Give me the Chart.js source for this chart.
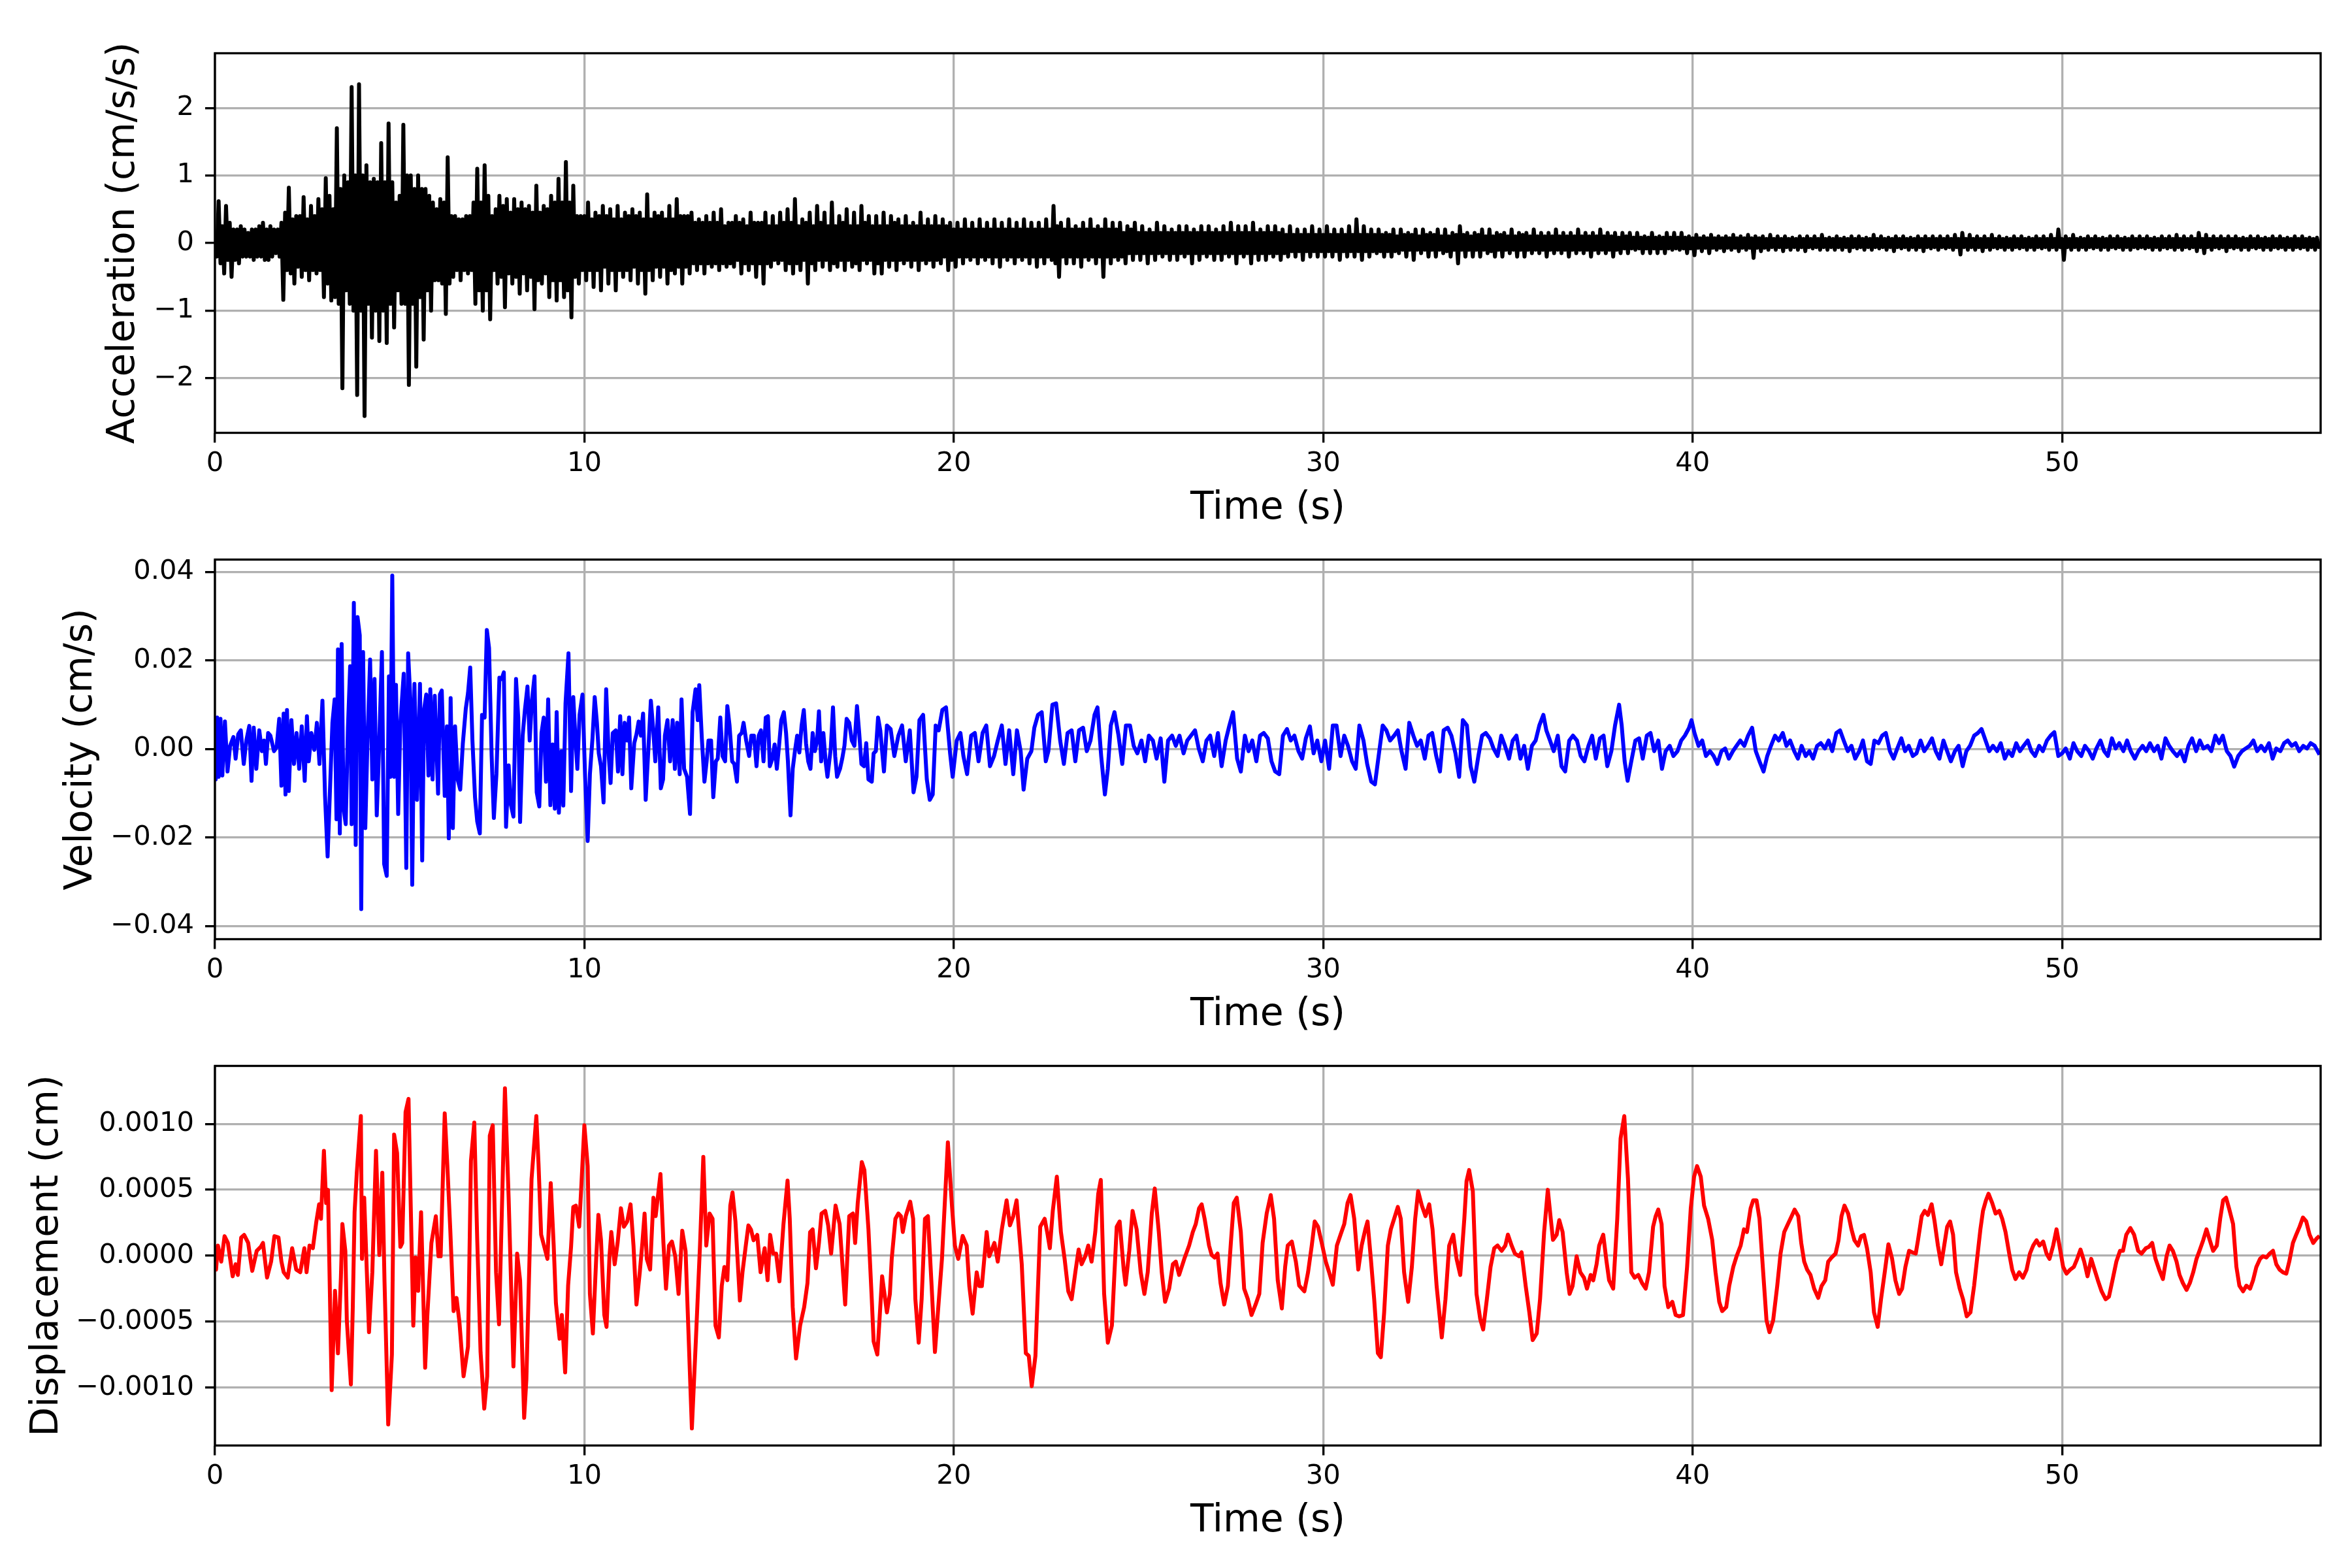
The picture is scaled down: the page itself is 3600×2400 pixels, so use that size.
<!DOCTYPE html>
<html lang="en">
<head>
<meta charset="UTF-8">
<title>Acceleration, velocity and displacement</title>
<script src="https://cdn.jsdelivr.net/npm/chart.js@4.4.7/dist/chart.umd.min.js"></script>
<style>
  html, body { margin: 0; padding: 0; background: #ffffff; }
  .panel { position: absolute; left: 0; width: 3600px; height: 820px; }
</style>
</head>
<body>
<canvas id="accelChart" class="panel" width="3600" height="820" style="top:0px"></canvas>
<canvas id="velChart" class="panel" width="3600" height="820" style="top:775px"></canvas>
<canvas id="dispChart" class="panel" width="3600" height="820" style="top:1550px"></canvas>
<script>
// time axis (s)
const timeMax = 57.0;
const timeTicks = [0, 10, 20, 30, 40, 50];

// acceleration (cm/s/s), one reading every 0.05 s, one row per second
const accelStep = 0.05;
const accelValues = [
  0.10,-0.20, 0.62,-0.30, 0.25,-0.45, 0.55,-0.25, 0.30,-0.50, 0.20,-0.25, 0.20,-0.30, 0.25,-0.20, 0.20,-0.20, 0.15,-0.20,
  0.20,-0.25, 0.20,-0.20, 0.25,-0.20, 0.30,-0.25, 0.20,-0.25, 0.25,-0.20, 0.20,-0.15, 0.20,-0.20, 0.30,-0.84, 0.45,-0.40,
  0.82,-0.45, 0.35,-0.60, 0.40,-0.35, 0.40,-0.50, 0.68,-0.40, 0.35,-0.55, 0.55,-0.40, 0.40,-0.45, 0.65,-0.40, 0.50,-0.80,
  0.96,-0.60, 0.70,-0.85, 0.50,-0.80, 1.70,-0.90, 0.80,-2.15, 1.00,-0.70, 0.90,-0.90, 2.31,-1.00, 1.00,-2.25, 2.35,-1.00,
  1.00,-2.56, 1.15,-0.90, 0.90,-1.40, 0.95,-1.00, 0.90,-1.45, 1.48,-1.00, 0.90,-1.48, 1.77,-0.90, 0.90,-1.25, 0.60,-0.70,
  0.70,-0.90, 1.75,-0.90, 1.00,-2.10, 1.00,-0.90, 0.80,-1.83, 1.00,-0.80, 0.80,-1.43, 0.80,-0.70, 0.70,-1.00, 0.60,-0.55,
  0.50,-0.55, 0.65,-0.60, 0.60,-1.05, 1.27,-0.60, 0.40,-0.50, 0.40,-0.40, 0.35,-0.55, 0.35,-0.40, 0.40,-0.45, 0.40,-0.40,
  0.60,-0.90, 1.10,-0.70, 0.60,-1.00, 1.15,-0.70, 0.70,-1.13, 0.40,-0.40, 0.50,-0.60, 0.70,-0.50, 0.55,-0.95, 0.65,-0.45,
  0.45,-0.60, 0.65,-0.50, 0.50,-0.75, 0.60,-0.45, 0.50,-0.70, 0.55,-0.50, 0.45,-0.98, 0.85,-0.55, 0.45,-0.60, 0.55,-0.45,
  0.50,-0.80, 0.70,-0.55, 0.60,-0.85, 0.95,-0.55, 0.60,-0.80, 1.20,-0.70, 0.60,-1.10, 0.85,-0.50, 0.40,-0.60, 0.40,-0.40,
  0.40,-0.55, 0.60,-0.40, 0.35,-0.65, 0.45,-0.40, 0.40,-0.70, 0.55,-0.35, 0.40,-0.60, 0.50,-0.40, 0.35,-0.70, 0.55,-0.40,
  0.35,-0.50, 0.45,-0.40, 0.40,-0.55, 0.50,-0.35, 0.40,-0.60, 0.45,-0.40, 0.35,-0.75, 0.72,-0.40, 0.35,-0.55, 0.45,-0.35,
  0.40,-0.50, 0.45,-0.35, 0.35,-0.60, 0.55,-0.40, 0.35,-0.45, 0.65,-0.35, 0.40,-0.60, 0.40,-0.35, 0.40,-0.45, 0.45,-0.30,
  0.30,-0.40, 0.35,-0.30, 0.30,-0.45, 0.40,-0.30, 0.30,-0.35, 0.45,-0.30, 0.30,-0.40, 0.50,-0.30, 0.25,-0.35, 0.30,-0.30,
  0.30,-0.35, 0.40,-0.25, 0.30,-0.45, 0.35,-0.30, 0.25,-0.40, 0.45,-0.30, 0.30,-0.50, 0.30,-0.30, 0.30,-0.60, 0.45,-0.30,
  0.25,-0.35, 0.40,-0.25, 0.25,-0.30, 0.45,-0.25, 0.30,-0.40, 0.50,-0.30, 0.30,-0.45, 0.65,-0.30, 0.25,-0.40, 0.35,-0.25,
  0.30,-0.60, 0.45,-0.30, 0.25,-0.40, 0.55,-0.25, 0.30,-0.35, 0.45,-0.25, 0.25,-0.40, 0.60,-0.30, 0.25,-0.35, 0.40,-0.25,
  0.30,-0.40, 0.50,-0.25, 0.25,-0.35, 0.45,-0.30, 0.25,-0.40, 0.55,-0.25, 0.30,-0.30, 0.40,-0.25, 0.25,-0.45, 0.40,-0.30,
  0.25,-0.45, 0.45,-0.25, 0.25,-0.35, 0.40,-0.25, 0.30,-0.40, 0.35,-0.25, 0.25,-0.30, 0.40,-0.25, 0.25,-0.35, 0.30,-0.25,
  0.25,-0.40, 0.45,-0.25, 0.25,-0.30, 0.35,-0.25, 0.25,-0.35, 0.40,-0.25, 0.25,-0.30, 0.35,-0.20, 0.25,-0.40, 0.30,-0.25,
  0.20,-0.35, 0.30,-0.20, 0.20,-0.30, 0.35,-0.20, 0.20,-0.25, 0.30,-0.20, 0.20,-0.30, 0.35,-0.20, 0.20,-0.25, 0.30,-0.20,
  0.20,-0.30, 0.35,-0.20, 0.20,-0.35, 0.30,-0.20, 0.20,-0.25, 0.35,-0.20, 0.20,-0.30, 0.30,-0.20, 0.20,-0.25, 0.35,-0.20,
  0.20,-0.30, 0.30,-0.20, 0.20,-0.35, 0.30,-0.20, 0.20,-0.30, 0.35,-0.20, 0.20,-0.25, 0.55,-0.30, 0.25,-0.50, 0.30,-0.20,
  0.20,-0.30, 0.35,-0.20, 0.20,-0.30, 0.25,-0.20, 0.20,-0.35, 0.30,-0.20, 0.20,-0.25, 0.35,-0.20, 0.20,-0.30, 0.25,-0.20,
  0.20,-0.50, 0.35,-0.20, 0.20,-0.30, 0.30,-0.20, 0.20,-0.25, 0.30,-0.20, 0.15,-0.30, 0.25,-0.15, 0.20,-0.25, 0.30,-0.15,
  0.15,-0.25, 0.25,-0.15, 0.15,-0.30, 0.20,-0.15, 0.15,-0.25, 0.30,-0.15, 0.15,-0.20, 0.25,-0.15, 0.15,-0.25, 0.20,-0.15,
  0.15,-0.25, 0.25,-0.15, 0.15,-0.20, 0.25,-0.15, 0.15,-0.30, 0.20,-0.15, 0.15,-0.25, 0.25,-0.15, 0.15,-0.20, 0.25,-0.15,
  0.15,-0.25, 0.20,-0.15, 0.15,-0.25, 0.25,-0.15, 0.15,-0.20, 0.30,-0.15, 0.15,-0.30, 0.25,-0.15, 0.15,-0.20, 0.25,-0.15,
  0.15,-0.30, 0.30,-0.15, 0.15,-0.25, 0.20,-0.15, 0.15,-0.25, 0.25,-0.15, 0.15,-0.20, 0.25,-0.15, 0.15,-0.25, 0.20,-0.15,
  0.12,-0.20, 0.25,-0.12, 0.12,-0.20, 0.20,-0.12, 0.12,-0.25, 0.20,-0.12, 0.12,-0.20, 0.25,-0.12, 0.12,-0.20, 0.20,-0.12,
  0.12,-0.20, 0.25,-0.12, 0.12,-0.20, 0.20,-0.12, 0.12,-0.25, 0.20,-0.12, 0.12,-0.20, 0.25,-0.12, 0.12,-0.20, 0.35,-0.12,
  0.12,-0.25, 0.25,-0.12, 0.12,-0.20, 0.20,-0.12, 0.12,-0.15, 0.20,-0.12, 0.12,-0.20, 0.15,-0.12, 0.12,-0.20, 0.20,-0.12,
  0.10,-0.15, 0.20,-0.10, 0.12,-0.20, 0.15,-0.10, 0.12,-0.25, 0.20,-0.10, 0.10,-0.15, 0.20,-0.10, 0.12,-0.20, 0.15,-0.10,
  0.12,-0.20, 0.20,-0.10, 0.10,-0.15, 0.20,-0.12, 0.10,-0.20, 0.15,-0.10, 0.12,-0.30, 0.25,-0.10, 0.12,-0.20, 0.15,-0.10,
  0.10,-0.20, 0.15,-0.10, 0.12,-0.20, 0.20,-0.10, 0.10,-0.15, 0.20,-0.12, 0.10,-0.20, 0.15,-0.10, 0.12,-0.20, 0.15,-0.10,
  0.10,-0.15, 0.20,-0.10, 0.10,-0.20, 0.15,-0.10, 0.12,-0.20, 0.15,-0.10, 0.10,-0.15, 0.20,-0.10, 0.10,-0.15, 0.15,-0.10,
  0.10,-0.20, 0.15,-0.10, 0.10,-0.15, 0.20,-0.10, 0.10,-0.15, 0.15,-0.10, 0.10,-0.20, 0.15,-0.10, 0.10,-0.15, 0.20,-0.10,
  0.10,-0.15, 0.15,-0.10, 0.10,-0.20, 0.15,-0.10, 0.10,-0.15, 0.20,-0.10, 0.10,-0.15, 0.15,-0.10, 0.10,-0.20, 0.15,-0.10,
  0.08,-0.15, 0.15,-0.08, 0.10,-0.15, 0.15,-0.08, 0.08,-0.10, 0.15,-0.08, 0.08,-0.15, 0.10,-0.08, 0.08,-0.15, 0.15,-0.08,
  0.08,-0.15, 0.10,-0.08, 0.08,-0.15, 0.15,-0.08, 0.08,-0.10, 0.15,-0.08, 0.08,-0.10, 0.15,-0.08, 0.08,-0.15, 0.10,-0.08,
  0.07,-0.18, 0.12,-0.07, 0.07,-0.12, 0.10,-0.07, 0.07,-0.15, 0.12,-0.07, 0.07,-0.10, 0.10,-0.07, 0.07,-0.12, 0.10,-0.07,
  0.07,-0.10, 0.12,-0.07, 0.07,-0.12, 0.10,-0.07, 0.07,-0.10, 0.12,-0.07, 0.07,-0.22, 0.10,-0.07, 0.07,-0.12, 0.10,-0.07,
  0.06,-0.10, 0.12,-0.06, 0.06,-0.10, 0.10,-0.06, 0.06,-0.12, 0.10,-0.06, 0.06,-0.10, 0.08,-0.06, 0.06,-0.10, 0.10,-0.06,
  0.06,-0.12, 0.10,-0.06, 0.06,-0.08, 0.10,-0.06, 0.06,-0.10, 0.12,-0.06, 0.06,-0.10, 0.08,-0.06, 0.06,-0.10, 0.10,-0.06,
  0.06,-0.10, 0.08,-0.06, 0.06,-0.12, 0.10,-0.06, 0.06,-0.08, 0.10,-0.06, 0.06,-0.10, 0.08,-0.06, 0.06,-0.10, 0.12,-0.06,
  0.06,-0.08, 0.10,-0.06, 0.06,-0.10, 0.08,-0.06, 0.06,-0.12, 0.10,-0.06, 0.06,-0.08, 0.10,-0.06, 0.06,-0.10, 0.08,-0.06,
  0.06,-0.10, 0.10,-0.06, 0.06,-0.12, 0.10,-0.06, 0.06,-0.08, 0.10,-0.06, 0.06,-0.10, 0.10,-0.06, 0.06,-0.08, 0.10,-0.06,
  0.06,-0.10, 0.12,-0.06, 0.06,-0.17, 0.15,-0.06, 0.06,-0.10, 0.12,-0.06, 0.06,-0.10, 0.10,-0.06, 0.06,-0.12, 0.10,-0.06,
  0.06,-0.10, 0.12,-0.06, 0.06,-0.08, 0.10,-0.06, 0.06,-0.10, 0.08,-0.06, 0.06,-0.10, 0.10,-0.06, 0.06,-0.08, 0.10,-0.06,
  0.06,-0.10, 0.08,-0.06, 0.06,-0.10, 0.10,-0.06, 0.06,-0.08, 0.10,-0.06, 0.06,-0.10, 0.12,-0.06, 0.06,-0.10, 0.20,-0.06,
  0.06,-0.25, 0.10,-0.06, 0.06,-0.10, 0.12,-0.06, 0.06,-0.10, 0.08,-0.06, 0.06,-0.10, 0.10,-0.06, 0.06,-0.08, 0.10,-0.06,
  0.06,-0.10, 0.08,-0.06, 0.06,-0.10, 0.10,-0.06, 0.06,-0.08, 0.10,-0.06, 0.06,-0.10, 0.08,-0.06, 0.06,-0.10, 0.10,-0.06,
  0.06,-0.08, 0.10,-0.06, 0.06,-0.08, 0.10,-0.06, 0.06,-0.10, 0.08,-0.06, 0.06,-0.10, 0.10,-0.06, 0.06,-0.08, 0.10,-0.06,
  0.06,-0.10, 0.12,-0.06, 0.06,-0.10, 0.10,-0.06, 0.06,-0.08, 0.10,-0.06, 0.06,-0.12, 0.15,-0.06, 0.06,-0.15, 0.12,-0.06,
  0.06,-0.10, 0.10,-0.06, 0.06,-0.08, 0.10,-0.06, 0.06,-0.12, 0.10,-0.06, 0.06,-0.08, 0.10,-0.06, 0.06,-0.10, 0.08,-0.06,
  0.06,-0.10, 0.10,-0.06, 0.06,-0.08, 0.10,-0.06, 0.06,-0.10, 0.08,-0.06, 0.06,-0.10, 0.10,-0.06, 0.06,-0.08, 0.10,-0.06,
  0.06,-0.10, 0.08,-0.06, 0.06,-0.10, 0.10,-0.06, 0.06,-0.08, 0.10,-0.06, 0.06,-0.10, 0.08,-0.06, 0.06,-0.10, 0.08,-0.06,
  0.02
];
const accelTicks = [-2, -1, 0, 1, 2];

// velocity (cm/s), turning points
const velTimes = [
  0.00, 0.02, 0.06, 0.10, 0.15, 0.20, 0.27, 0.34, 0.41, 0.50, 0.56, 0.63, 0.70, 0.78, 0.85, 0.93, 0.99,
  1.05, 1.12, 1.20, 1.27, 1.33, 1.38, 1.44, 1.50, 1.60, 1.67, 1.74, 1.80, 1.86, 1.91, 1.95, 2.00,
  2.07, 2.14, 2.21, 2.28, 2.35, 2.43, 2.49, 2.54, 2.61, 2.69, 2.76, 2.83, 2.91, 2.98, 3.05, 3.11,
  3.18, 3.24, 3.29, 3.33, 3.38, 3.43, 3.48, 3.54, 3.60, 3.66, 3.70, 3.76, 3.81, 3.86, 3.92, 3.96,
  4.01, 4.07, 4.13, 4.20, 4.26, 4.32, 4.38, 4.44, 4.52, 4.58, 4.65, 4.71, 4.75, 4.80, 4.85, 4.90,
  4.96, 5.02, 5.11, 5.18, 5.23, 5.29, 5.34, 5.40, 5.47, 5.55, 5.61, 5.66, 5.72, 5.78, 5.83, 5.89,
  5.95, 6.04, 6.09, 6.14, 6.22, 6.28, 6.33, 6.38, 6.44, 6.50, 6.57, 6.64, 6.71, 6.79, 6.85, 6.91,
  6.97, 7.04, 7.10, 7.17, 7.23, 7.30, 7.36, 7.42, 7.49, 7.55, 7.62, 7.70, 7.76, 7.82, 7.88, 7.95,
  8.01, 8.08, 8.15, 8.21, 8.26, 8.33, 8.39, 8.46, 8.52, 8.58, 8.65, 8.71, 8.78, 8.84, 8.90, 8.96,
  9.02, 9.08, 9.14, 9.20, 9.25, 9.31, 9.38, 9.43, 9.49, 9.57, 9.64, 9.70, 9.75, 9.81, 9.87, 9.95,
  10.02, 10.09, 10.15, 10.22, 10.28, 10.34, 10.39, 10.45, 10.52, 10.59, 10.66, 10.71, 10.77, 10.85,
  10.91, 10.97, 11.03, 11.09, 11.16, 11.21, 11.27, 11.35, 11.41, 11.47, 11.53, 11.59, 11.66, 11.73,
  11.80, 11.86, 11.92, 12.00, 12.07, 12.13, 12.18, 12.25, 12.32, 12.39, 12.45, 12.51, 12.58, 12.63,
  12.70, 12.78, 12.86, 12.93, 13.01, 13.07, 13.11, 13.18, 13.25, 13.31, 13.36, 13.43, 13.49, 13.56,
  13.61, 13.68, 13.74, 13.81, 13.87, 13.93, 14.00, 14.06, 14.13, 14.19, 14.26, 14.31, 14.38, 14.46,
  14.52, 14.59, 14.66, 14.72, 14.78, 14.85, 14.91, 14.97, 15.02, 15.09, 15.15, 15.21, 15.27, 15.33,
  15.40, 15.46, 15.51, 15.58, 15.64, 15.70, 15.76, 15.82, 15.88, 15.94, 16.00, 16.06, 16.12, 16.18,
  16.24, 16.30, 16.35, 16.41, 16.47, 16.53, 16.58, 16.67, 16.73, 16.79, 16.84, 16.92, 16.98, 17.04,
  17.10, 17.17, 17.24, 17.31, 17.38, 17.44, 17.50, 17.57, 17.63, 17.69, 17.78, 17.83, 17.89, 17.95,
  18.01, 18.11, 18.19, 18.29, 18.39, 18.50, 18.60, 18.70, 18.81, 18.91, 18.99, 19.07, 19.17, 19.27,
  19.35, 19.43, 19.51, 19.59, 19.69, 19.79, 19.90, 19.97, 20.08, 20.18, 20.26, 20.36, 20.47, 20.57,
  20.67, 20.78, 20.88, 20.98, 21.09, 21.19, 21.30, 21.40, 21.50, 21.61, 21.71, 21.81, 21.89, 21.99,
  22.10, 22.18, 22.28, 22.38, 22.49, 22.56, 22.67, 22.77, 22.88, 22.98, 23.08, 23.19, 23.29, 23.39,
  23.50, 23.60, 23.70, 23.81, 23.89, 23.99, 24.09, 24.17, 24.25, 24.35, 24.46, 24.56, 24.66, 24.77,
  24.87, 24.97, 25.08, 25.18, 25.28, 25.39, 25.49, 25.60, 25.70, 25.80, 25.91, 26.01, 26.11, 26.22,
  26.32, 26.42, 26.53, 26.63, 26.74, 26.84, 26.94, 27.05, 27.15, 27.25, 27.36, 27.46, 27.56, 27.67,
  27.77, 27.88, 27.98, 28.08, 28.19, 28.29, 28.39, 28.50, 28.60, 28.70, 28.81, 28.91, 29.02, 29.12,
  29.22, 29.33, 29.43, 29.53, 29.64, 29.74, 29.84, 29.95, 30.05, 30.16, 30.26, 30.36, 30.47, 30.57,
  30.67, 30.78, 30.88, 30.98, 31.09, 31.19, 31.30, 31.40, 31.50, 31.61, 31.71, 31.81, 31.92, 32.02,
  32.12, 32.23, 32.33, 32.44, 32.54, 32.64, 32.75, 32.85, 32.95, 33.06, 33.16, 33.26, 33.37, 33.47,
  33.58, 33.68, 33.78, 33.89, 33.99, 34.09, 34.20, 34.30, 34.40, 34.51, 34.61, 34.72, 34.82, 34.92,
  35.03, 35.13, 35.23, 35.34, 35.44, 35.54, 35.65, 35.75, 35.85, 35.96, 36.04, 36.14, 36.24, 36.35,
  36.45, 36.55, 36.66, 36.76, 36.87, 36.97, 37.07, 37.18, 37.28, 37.38, 37.49, 37.59, 37.69, 37.80,
  37.90, 38.01, 38.08, 38.16, 38.24, 38.34, 38.45, 38.55, 38.65, 38.76, 38.86, 38.96, 39.07, 39.17,
  39.27, 39.38, 39.48, 39.59, 39.69, 39.79, 39.90, 39.97, 40.05, 40.16, 40.26, 40.36, 40.47, 40.57,
  40.67, 40.78, 40.88, 40.98, 41.09, 41.19, 41.29, 41.40, 41.50, 41.61, 41.71, 41.81, 41.92, 42.02,
  42.12, 42.23, 42.33, 42.44, 42.54, 42.64, 42.75, 42.85, 42.95, 43.06, 43.16, 43.26, 43.37, 43.47,
  43.58, 43.68, 43.78, 43.89, 43.99, 44.09, 44.20, 44.30, 44.40, 44.51, 44.61, 44.72, 44.82, 44.92,
  45.03, 45.13, 45.23, 45.34, 45.44, 45.54, 45.65, 45.75, 45.85, 45.96, 46.06, 46.17, 46.27, 46.37,
  46.48, 46.58, 46.68, 46.79, 46.89, 46.99, 47.10, 47.20, 47.31, 47.41, 47.51, 47.62, 47.72, 47.82,
  47.93, 48.03, 48.13, 48.24, 48.34, 48.45, 48.55, 48.65, 48.76, 48.86, 48.96, 49.07, 49.17, 49.27,
  49.38, 49.48, 49.59, 49.69, 49.79, 49.90, 50.00, 50.10, 50.21, 50.31, 50.41, 50.52, 50.62, 50.73,
  50.83, 50.93, 51.04, 51.14, 51.24, 51.35, 51.45, 51.55, 51.66, 51.76, 51.86, 51.97, 52.07, 52.18,
  52.28, 52.38, 52.49, 52.59, 52.69, 52.80, 52.90, 53.00, 53.11, 53.21, 53.32, 53.42, 53.52, 53.63,
  53.73, 53.83, 53.94, 54.04, 54.15, 54.25, 54.35, 54.46, 54.56, 54.66, 54.77, 54.87, 54.97, 55.08,
  55.18, 55.28, 55.39, 55.49, 55.60, 55.70, 55.80, 55.91, 56.01, 56.11, 56.22, 56.32, 56.42, 56.53,
  56.63, 56.73, 56.84, 56.97
];
const velValues = [
  0.0e-3, -6.9e-3, 7.1e-3, -6.3e-3, 6.8e-3, -6.0e-3, 6.2e-3, -5.1e-3, 0.7e-3, 2.7e-3, -2.2e-3, 3.3e-3, 4.2e-3, -3.4e-3, 1.9e-3, 5.2e-3, -7.2e-3,
  4.8e-3, -4.5e-3, 4.2e-3, -0.5e-3, 1.9e-3, -3.4e-3, 3.6e-3, 3.0e-3, -0.5e-3, 0.4e-3, 6.8e-3, -8.3e-3, 8.0e-3, -10.3e-3, 8.8e-3, -9.5e-3,
  6.5e-3, -3.4e-3, 3.6e-3, -4.5e-3, 5.1e-3, -7.2e-3, 7.4e-3, -2.8e-3, 3.6e-3, -0.2e-3, 5.9e-3, -3.4e-3, 10.9e-3, -10.6e-3, -24.3e-3, -10.2e-3,
  5.9e-3, 11.2e-3, -15.9e-3, 22.5e-3, -19.1e-3, 23.7e-3, -13.3e-3, -17.0e-3, 4.8e-3, 18.7e-3, -17.0e-3, 33.0e-3, -21.7e-3, 29.8e-3, 25.7e-3, -36.2e-3,
  21.9e-3, -17.9e-3, 1.9e-3, 20.2e-3, -6.9e-3, 15.8e-3, -15.0e-3, -0.5e-3, 21.9e-3, -26.0e-3, -28.7e-3, 16.4e-3, -6.3e-3, 39.2e-3, -6.3e-3, 14.5e-3,
  -14.7e-3, 5.9e-3, 17.0e-3, -26.9e-3, 21.6e-3, 11.2e-3, -30.7e-3, 14.7e-3, -11.5e-3, 14.7e-3, -25.2e-3, 8.8e-3, 12.3e-3, -6.0e-3, 13.5e-3, -6.9e-3,
  12.0e-3, -10.1e-3, 12.3e-3, 13.2e-3, -10.6e-3, 5.1e-3, -20.2e-3, 11.5e-3, -17.9e-3, 5.1e-3, -6.9e-3, -9.2e-3, 1.2e-3, 9.1e-3, 12.6e-3, 18.4e-3,
  1.9e-3, -10.9e-3, -16.4e-3, -19.1e-3, 7.7e-3, 7.1e-3, 26.9e-3, 22.8e-3, -1.6e-3, -15.6e-3, -5.7e-3, 16.1e-3, 15.8e-3, 17.3e-3, -17.6e-3, -3.7e-3,
  -12.6e-3, -15.3e-3, 15.8e-3, 7.1e-3, -16.5e-3, 3.0e-3, 8.8e-3, 14.1e-3, 1.9e-3, 10.9e-3, 16.4e-3, -9.8e-3, -13.0e-3, 3.6e-3, 7.1e-3, -7.4e-3,
  11.2e-3, -12.7e-3, 1.0e-3, -13.5e-3, 8.3e-3, -14.4e-3, -0.5e-3, -12.8e-3, 10.3e-3, 21.6e-3, -9.5e-3, 11.7e-3, 3.6e-3, -4.5e-3, 7.7e-3, 12.3e-3,
  -6.3e-3, -20.8e-3, -5.7e-3, 2.4e-3, 11.7e-3, 5.9e-3, -1.0e-3, -3.9e-3, -12.1e-3, 13.5e-3, -1.6e-3, -7.7e-3, 3.6e-3, 4.2e-3,
  -5.1e-3, 7.4e-3, -5.7e-3, 5.9e-3, 1.9e-3, 7.1e-3, -8.9e-3, 1.3e-3, 3.3e-3, 6.2e-3, 3.0e-3, 8.0e-3, -11.5e-3, -0.5e-3,
  10.9e-3, 4.8e-3, -2.8e-3, 9.4e-3, -8.9e-3, -6.9e-3, 3.0e-3, 6.5e-3, -2.8e-3, 6.5e-3, -4.5e-3, 5.9e-3, -5.7e-3, 11.2e-3,
  -4.5e-3, -6.3e-3, -14.7e-3, 8.3e-3, 13.5e-3, 6.5e-3, 14.4e-3, 2.4e-3, -7.4e-3, -2.8e-3, 1.9e-3, 1.9e-3, -10.9e-3, -2.8e-3,
  -2.2e-3, 7.1e-3, -1.6e-3, -2.8e-3, 9.7e-3, 5.3e-3, -2.8e-3, -3.4e-3, -7.4e-3, 3.0e-3, 3.6e-3, 5.9e-3, 1.9e-3, -1.6e-3,
  3.0e-3, 3.0e-3, -3.9e-3, 3.0e-3, 4.2e-3, -2.8e-3, 7.1e-3, 7.4e-3, -3.9e-3, -2.2e-3, 1.0e-3, -4.5e-3, 0.7e-3, 6.5e-3,
  8.3e-3, 3.6e-3, -2.8e-3, -15.0e-3, -4.5e-3, -0.5e-3, 3.0e-3, -0.8e-3, 5.3e-3, 8.8e-3, 1.3e-3, -2.8e-3, -4.5e-3, 3.6e-3,
  -0.5e-3, 1.9e-3, 8.5e-3, -2.8e-3, 3.6e-3, -2.8e-3, -6.3e-3, 0.1e-3, 9.4e-3, -1.6e-3, -6.3e-3, -4.5e-3, -2.2e-3, 0.7e-3,
  6.8e-3, 5.9e-3, 1.9e-3, 0.7e-3, 9.7e-3, 3.6e-3, -3.4e-3, -3.9e-3, 1.3e-3, -6.9e-3, -7.4e-3, -1.0e-3, -0.5e-3, 7.1e-3,
  4.2e-3, -5.1e-3, 5.3e-3, 4.5e-3, -1.6e-3, 3.0e-3, 5.3e-3, -2.8e-3, 4.2e-3, -9.8e-3, -6.3e-3, 6.5e-3, 7.7e-3, -6.9e-3,
  -11.5e-3, -10.3e-3, 5.3e-3, 4.2e-3, 8.8e-3, 9.4e-3, -1.0e-3, -6.3e-3, 1.9e-3, 3.6e-3, -1.6e-3, -5.7e-3, 3.0e-3, 3.6e-3,
  -2.8e-3, 3.6e-3, 5.3e-3, -3.9e-3, -1.6e-3, 1.9e-3, 5.3e-3, -3.4e-3, 4.2e-3, -5.7e-3, 4.2e-3, -0.5e-3, -9.2e-3, -2.2e-3,
  -0.5e-3, 4.8e-3, 7.7e-3, 8.3e-3, -2.8e-3, -0.5e-3, 10.0e-3, 10.3e-3, 1.9e-3, -3.4e-3, 3.6e-3, 4.2e-3, -2.8e-3, 4.2e-3,
  4.8e-3, -0.5e-3, 1.9e-3, 7.7e-3, 9.4e-3, -1.6e-3, -10.3e-3, -4.5e-3, 5.3e-3, 8.3e-3, 3.0e-3, -3.4e-3, 5.3e-3, 5.3e-3,
  0.7e-3, -1.0e-3, 1.9e-3, -2.8e-3, 3.0e-3, 1.9e-3, -2.2e-3, 2.4e-3, -7.4e-3, 1.9e-3, 3.0e-3, 0.7e-3, 3.0e-3, -1.0e-3,
  1.9e-3, 3.0e-3, 4.2e-3, 0.1e-3, -2.8e-3, 1.9e-3, 3.0e-3, -1.6e-3, 3.6e-3, -3.9e-3, 1.9e-3, 5.3e-3, 8.3e-3, -2.2e-3,
  -5.1e-3, 3.0e-3, -0.5e-3, 1.9e-3, -2.8e-3, 3.0e-3, 3.6e-3, 2.4e-3, -2.8e-3, -5.1e-3, -5.7e-3, 3.0e-3, 4.5e-3, 1.9e-3,
  3.0e-3, -0.5e-3, -2.2e-3, 2.4e-3, 5.1e-3, -1.0e-3, 1.9e-3, -2.8e-3, 1.9e-3, -4.5e-3, 5.3e-3, 5.3e-3, -1.6e-3, 3.0e-3,
  0.7e-3, -2.8e-3, -4.5e-3, 5.3e-3, 1.9e-3, -3.4e-3, -7.4e-3, -8.0e-3, -1.6e-3, 5.3e-3, 4.2e-3, 1.9e-3, 3.0e-3, 4.2e-3,
  -0.5e-3, -4.5e-3, 5.9e-3, 3.0e-3, 0.7e-3, 1.9e-3, -2.2e-3, 3.0e-3, 3.6e-3, -1.6e-3, -5.1e-3, 4.2e-3, 4.8e-3, 3.0e-3,
  -1.0e-3, -6.3e-3, 6.5e-3, 5.3e-3, -3.9e-3, -7.4e-3, -1.6e-3, 3.0e-3, 3.6e-3, 2.4e-3, 0.1e-3, -1.6e-3, 3.0e-3, 0.7e-3,
  -2.2e-3, 1.9e-3, 3.0e-3, -2.2e-3, 0.7e-3, -4.5e-3, 0.7e-3, 1.9e-3, 5.3e-3, 7.7e-3, 4.2e-3, 1.9e-3, -0.5e-3, 3.0e-3,
  -3.9e-3, -5.1e-3, 1.9e-3, 3.0e-3, 1.9e-3, -1.6e-3, -2.8e-3, 0.7e-3, 3.0e-3, -2.2e-3, 2.4e-3, 3.0e-3, -3.9e-3, -0.5e-3,
  5.3e-3, 10.0e-3, 5.3e-3, -2.8e-3, -7.2e-3, -2.8e-3, 1.9e-3, 2.4e-3, -2.2e-3, 3.0e-3, 3.6e-3, -0.5e-3, 1.9e-3, -4.5e-3,
  -0.5e-3, 0.7e-3, -1.6e-3, -0.5e-3, 1.9e-3, 3.0e-3, 4.7e-3, 6.5e-3, 3.6e-3, 0.7e-3, 1.9e-3, -1.6e-3, -0.5e-3, -1.6e-3,
  -3.4e-3, -0.5e-3, 0.1e-3, -2.2e-3, -0.5e-3, 0.7e-3, 1.9e-3, 0.7e-3, 3.0e-3, 4.8e-3, -0.5e-3, -2.8e-3, -5.1e-3, -1.6e-3,
  0.7e-3, 3.0e-3, 1.9e-3, 3.6e-3, 0.7e-3, 1.9e-3, -0.5e-3, -2.2e-3, 0.7e-3, -1.6e-3, -0.5e-3, -2.2e-3, 0.7e-3, 1.3e-3,
  0.1e-3, 1.9e-3, -0.5e-3, 3.6e-3, 4.2e-3, 1.9e-3, -0.5e-3, 0.7e-3, -2.2e-3, -0.5e-3, 1.9e-3, -2.8e-3, -3.4e-3, 1.9e-3,
  1.3e-3, 3.0e-3, 3.6e-3, -0.5e-3, -2.2e-3, 0.1e-3, 2.4e-3, -0.5e-3, 0.7e-3, -1.6e-3, -1.0e-3, 1.9e-3, -0.5e-3, 0.7e-3,
  2.4e-3, -0.5e-3, -2.2e-3, 1.9e-3, -0.5e-3, -2.8e-3, -0.5e-3, 0.7e-3, -3.9e-3, -0.5e-3, 0.7e-3, 3.0e-3, 3.6e-3, 4.5e-3,
  1.9e-3, -0.5e-3, 0.7e-3, -0.5e-3, 1.3e-3, -2.2e-3, -0.5e-3, -1.6e-3, 1.3e-3, -0.5e-3, 0.7e-3, 1.9e-3, -0.5e-3, -1.6e-3,
  0.7e-3, -0.5e-3, 1.9e-3, 3.0e-3, 3.8e-3, -1.6e-3, -1.0e-3, 0.1e-3, -2.2e-3, 1.3e-3, -0.5e-3, -1.6e-3, 0.7e-3, -0.5e-3,
  -2.2e-3, 0.1e-3, 1.9e-3, -0.5e-3, -1.6e-3, 2.4e-3, 0.1e-3, 1.3e-3, -0.5e-3, 1.9e-3, -0.5e-3, -2.2e-3, -0.5e-3, 0.7e-3,
  -0.5e-3, 1.3e-3, -0.5e-3, 0.7e-3, -2.2e-3, 2.4e-3, 0.7e-3, -0.5e-3, -1.6e-3, -0.5e-3, -2.8e-3, 0.7e-3, 2.4e-3, -0.5e-3,
  1.9e-3, 0.1e-3, 0.7e-3, -0.5e-3, 3.0e-3, 1.3e-3, 3.0e-3, -0.5e-3, -1.6e-3, -4.0e-3, -1.6e-3, -0.5e-3, 0.1e-3, 0.7e-3,
  1.9e-3, -0.5e-3, 0.7e-3, -0.5e-3, 1.3e-3, -2.2e-3, 0.1e-3, -0.5e-3, 1.3e-3, 1.9e-3, 0.7e-3, 1.3e-3, -0.5e-3, 0.7e-3,
  0.1e-3, 1.3e-3, 0.7e-3, -1.3e-3
];
const velTicks = [-0.04, -0.02, 0, 0.02, 0.04];

// displacement (cm), turning points
const dispTimes = [
  0.00, 0.03, 0.08, 0.17, 0.26, 0.35, 0.48, 0.56, 0.62, 0.71, 0.79, 0.90, 0.96, 1.01, 1.13, 1.24, 1.30,
  1.41, 1.52, 1.61, 1.72, 1.80, 1.86, 1.97, 2.09, 2.20, 2.31, 2.42, 2.48, 2.56, 2.65, 2.74, 2.82,
  2.87, 2.95, 3.01, 3.06, 3.16, 3.25, 3.33, 3.41, 3.45, 3.53, 3.57, 3.68, 3.73, 3.78, 3.84, 3.95,
  3.98, 4.04, 4.17, 4.26, 4.36, 4.45, 4.53, 4.59, 4.69, 4.79, 4.85, 4.93, 5.02, 5.07, 5.16, 5.24,
  5.30, 5.37, 5.43, 5.50, 5.58, 5.69, 5.75, 5.86, 5.98, 6.05, 6.11, 6.22, 6.29, 6.37, 6.46, 6.54,
  6.62, 6.73, 6.85, 6.93, 7.02, 7.10, 7.19, 7.29, 7.37, 7.44, 7.52, 7.61, 7.69, 7.85, 7.95, 8.08,
  8.18, 8.26, 8.37, 8.43, 8.57, 8.70, 8.76, 8.83, 9.00, 9.09, 9.17, 9.23, 9.33, 9.39, 9.48, 9.56,
  9.64, 9.70, 9.77, 9.86, 9.92, 10.00, 10.09, 10.15, 10.23, 10.32, 10.38, 10.45, 10.54, 10.60,
  10.68, 10.73, 10.82, 10.90, 10.99, 11.07, 11.16, 11.25, 11.33, 11.41, 11.50, 11.57, 11.63, 11.69,
  11.78, 11.87, 11.93, 12.06, 12.14, 12.21, 12.29, 12.37, 12.46, 12.55, 12.65, 12.74, 12.91, 13.02,
  13.13, 13.22, 13.30, 13.39, 13.47, 13.55, 13.64, 13.72, 13.79, 13.87, 13.95, 14.01, 14.09, 14.21,
  14.28, 14.37, 14.44, 14.51, 14.58, 14.68, 14.77, 14.88, 14.96, 15.03, 15.11, 15.19, 15.28, 15.39,
  15.50, 15.56, 15.64, 15.73, 15.84, 15.95, 16.04, 16.11, 16.18, 16.27, 16.35, 16.42, 16.52, 16.60,
  16.68, 16.80, 16.91, 17.06, 17.17, 17.27, 17.33, 17.40, 17.51, 17.58, 17.69, 17.78, 17.83, 17.93,
  17.98, 18.06, 18.19, 18.27, 18.32, 18.42, 18.50, 18.57, 18.62, 18.70, 18.82, 18.90, 18.96, 19.05,
  19.13, 19.22, 19.30, 19.40, 19.49, 19.57, 19.68, 19.84, 19.95, 20.03, 20.12, 20.24, 20.35, 20.42,
  20.51, 20.62, 20.69, 20.76, 20.89, 20.96, 21.10, 21.19, 21.30, 21.43, 21.52, 21.61, 21.70, 21.84,
  21.95, 22.03, 22.11, 22.21, 22.34, 22.46, 22.54, 22.60, 22.68, 22.79, 22.90, 23.00, 23.10, 23.19,
  23.30, 23.38, 23.46, 23.56, 23.64, 23.73, 23.83, 23.91, 23.98, 24.07, 24.17, 24.28, 24.41, 24.49,
  24.60, 24.65, 24.75, 24.84, 24.95, 25.06, 25.16, 25.25, 25.36, 25.44, 25.55, 25.63, 25.72, 25.83,
  25.93, 26.01, 26.10, 26.24, 26.37, 26.47, 26.55, 26.64, 26.71, 26.79, 26.91, 26.98, 27.06, 27.14,
  27.22, 27.32, 27.42, 27.50, 27.58, 27.66, 27.77, 27.86, 27.96, 28.06, 28.17, 28.27, 28.36, 28.47,
  28.58, 28.67, 28.77, 28.88, 28.97, 29.04, 29.15, 29.26, 29.35, 29.49, 29.59, 29.69, 29.77, 29.86,
  29.96, 30.07, 30.16, 30.26, 30.37, 30.47, 30.57, 30.66, 30.74, 30.84, 30.95, 31.04, 31.14, 31.20,
  31.29, 31.38, 31.48, 31.56, 31.65, 31.75, 31.83, 31.92, 32.02, 32.10, 32.19, 32.30, 32.40, 32.49,
  32.57, 32.67, 32.77, 32.87, 32.96, 33.07, 33.21, 33.31, 33.41, 33.52, 33.61, 33.71, 33.82, 33.88,
  33.95, 34.05, 34.15, 34.25, 34.33, 34.43, 34.53, 34.63, 34.72, 34.83, 34.93, 35.00, 35.10, 35.19,
  35.30, 35.37, 35.48, 35.58, 35.67, 35.78, 35.87, 35.98, 36.08, 36.16, 36.22, 36.32, 36.39, 36.48,
  36.59, 36.67, 36.75, 36.86, 36.96, 37.06, 37.14, 37.24, 37.31, 37.40, 37.47, 37.58, 37.67, 37.74,
  37.85, 37.96, 38.05, 38.15, 38.25, 38.34, 38.43, 38.53, 38.63, 38.73, 38.82, 38.93, 39.00, 39.07,
  39.16, 39.24, 39.34, 39.45, 39.54, 39.63, 39.74, 39.85, 39.95, 40.04, 40.12, 40.22, 40.31, 40.42,
  40.53, 40.62, 40.72, 40.80, 40.91, 40.99, 41.10, 41.19, 41.30, 41.39, 41.47, 41.57, 41.64, 41.73,
  41.81, 41.91, 42.00, 42.08, 42.18, 42.29, 42.38, 42.48, 42.58, 42.68, 42.76, 42.86, 42.94, 43.02,
  43.10, 43.19, 43.29, 43.40, 43.49, 43.59, 43.67, 43.76, 43.87, 43.95, 44.03, 44.11, 44.21, 44.30,
  44.38, 44.48, 44.56, 44.64, 44.72, 44.82, 44.91, 45.01, 45.10, 45.20, 45.30, 45.40, 45.49, 45.59,
  45.67, 45.76, 45.86, 45.94, 46.04, 46.10, 46.20, 46.28, 46.37, 46.47, 46.55, 46.64, 46.73, 46.81,
  46.89, 46.97, 47.05, 47.13, 47.23, 47.32, 47.42, 47.52, 47.62, 47.70, 47.79, 47.86, 47.94, 48.01,
  48.11, 48.20, 48.30, 48.38, 48.47, 48.57, 48.65, 48.74, 48.84, 48.94, 49.04, 49.13, 49.22, 49.31,
  49.39, 49.49, 49.58, 49.66, 49.76, 49.85, 49.93, 50.03, 50.12, 50.22, 50.32, 50.41, 50.50, 50.60,
  50.69, 50.79, 50.88, 50.97, 51.07, 51.18, 51.27, 51.38, 51.47, 51.57, 51.65, 51.74, 51.85, 51.95,
  52.06, 52.15, 52.27, 52.35, 52.44, 52.53, 52.63, 52.73, 52.83, 52.91, 53.00, 53.10, 53.18, 53.27,
  53.37, 53.46, 53.55, 53.64, 53.72, 53.82, 53.91, 54.00, 54.09, 54.19, 54.28, 54.36, 54.44, 54.52,
  54.63, 54.72, 54.80, 54.90, 54.99, 55.09, 55.17, 55.26, 55.36, 55.44, 55.53, 55.62, 55.71, 55.80,
  55.89, 55.98, 56.07, 56.15, 56.25, 56.34, 56.43, 56.52, 56.61, 56.70, 56.80, 56.89, 56.97
];
const dispValues = [
  0.77e-4, -1.05e-4, 0.77e-4, -0.45e-4, 1.48e-4, 0.97e-4, -1.56e-4, -0.65e-4, -1.46e-4, 1.38e-4, 1.58e-4, 0.97e-4, -0.24e-4, -1.15e-4, 0.36e-4, 0.67e-4, 0.97e-4,
  -1.66e-4, -0.45e-4, 1.48e-4, 1.38e-4, -0.45e-4, -1.25e-4, -1.66e-4, 0.57e-4, -1.05e-4, -1.25e-4, 0.57e-4, -1.25e-4, 0.77e-4, 0.57e-4, 2.5e-4, 3.9e-4,
  2.8e-4, 7.96e-4, 4.0e-4, 5.0e-4, -10.2e-4, -2.67e-4, -7.4e-4, -1.6e-4, 2.4e-4, 0.36e-4, -4.9e-4, -9.76e-4, -4.1e-4, 3.3e-4, 6.3e-4, 10.6e-4,
  -0.24e-4, 4.4e-4, -5.8e-4, -1.26e-4, 7.96e-4, 0.06e-4, 6.3e-4, -1.96e-4, -12.8e-4, -7.5e-4, 9.2e-4, 7.8e-4, 0.67e-4, 0.97e-4, 10.9e-4, 11.9e-4,
  3.8e-4, -5.3e-4, -0.14e-4, -2.67e-4, 3.3e-4, -8.5e-4, -4.5e-4, 0.97e-4, 3.0e-4, -0.04e-4, -0.04e-4, 10.8e-4, 6.9e-4, 2.0e-4, -4.2e-4, -3.2e-4,
  -5.1e-4, -9.15e-4, -6.9e-4, 7.2e-4, 10.1e-4, 1.2e-4, -7.3e-4, -11.6e-4, -9.15e-4, 9.1e-4, 9.9e-4, -1.26e-4, -5.2e-4, 12.7e-4, 4.4e-4, -8.4e-4,
  0.16e-4, -1.86e-4, -12.3e-4, -9.4e-4, 5.8e-4, 10.6e-4, 6.9e-4, 1.6e-4, -0.24e-4, 5.5e-4, 0.77e-4, -3.6e-4, -6.3e-4, -4.5e-4, -8.85e-4, -2.27e-4,
  0.67e-4, 3.7e-4, 3.8e-4, 2.2e-4, 5.4e-4, 9.9e-4, 6.8e-4, -2.9e-4, -5.9e-4, -0.24e-4, 3.1e-4, 1.2e-4, -4.5e-4, -5.4e-4,
  -0.04e-4, 1.8e-4, -0.65e-4, 0.97e-4, 3.6e-4, 2.2e-4, 2.6e-4, 3.9e-4, 0.77e-4, -3.7e-4, -1.26e-4, 0.97e-4, 3.2e-4, -0.24e-4,
  -1.05e-4, 4.4e-4, 3.0e-4, 6.2e-4, 0.97e-4, -2.5e-4, 0.77e-4, 1.07e-4, -0.04e-4, -2.9e-4, 1.9e-4, 0.36e-4, -13.1e-4, -6.3e-4,
  0.77e-4, 7.5e-4, 0.77e-4, 3.2e-4, 2.8e-4, -5.3e-4, -6.2e-4, -2.27e-4, -0.85e-4, -1.86e-4, 3.8e-4, 4.8e-4, 2.6e-4, -3.4e-4,
  -1.26e-4, 0.77e-4, 2.3e-4, 1.98e-4, 1.17e-4, 1.58e-4, -1.25e-4, 0.57e-4, -1.86e-4, 1.58e-4, 0.16e-4, 0.16e-4, -1.95e-4, 2.4e-4,
  5.7e-4, 2.8e-4, -3.9e-4, -7.8e-4, -5.3e-4, -3.9e-4, -2.07e-4, 1.78e-4, 2.0e-4, -0.95e-4, 0.97e-4, 3.2e-4, 3.4e-4, 2.3e-4,
  0.16e-4, 3.8e-4, 2.4e-4, -3.7e-4, 3.0e-4, 3.2e-4, 0.97e-4, 4.0e-4, 7.1e-4, 6.5e-4, 2.0e-4, -3.3e-4, -6.5e-4, -7.5e-4,
  -5.3e-4, -1.56e-4, -4.3e-4, -2.9e-4, -0.24e-4, 2.8e-4, 3.2e-4, 3.0e-4, 1.8e-4, 3.0e-4, 4.1e-4, 2.8e-4, -3.3e-4, -6.6e-4,
  -3.3e-4, 2.8e-4, 3.0e-4, -2.3e-4, -7.3e-4, -4.3e-4, -0.24e-4, 8.6e-4, 3.8e-4, 0.77e-4, -0.24e-4, 1.5e-4, 0.77e-4, -2.3e-4,
  -4.4e-4, -1.26e-4, -2.3e-4, -2.3e-4, 1.8e-4, -0.04e-4, 0.97e-4, -0.45e-4, 2.0e-4, 4.2e-4, 2.3e-4, 3.0e-4, 4.2e-4, -0.65e-4,
  -7.4e-4, -7.6e-4, -9.9e-4, -7.6e-4, 2.2e-4, 2.8e-4, 1.6e-4, 0.57e-4, 3.4e-4, 6.0e-4, 1.8e-4, -0.24e-4, -2.7e-4, -3.3e-4,
  -1.06e-4, 0.47e-4, -0.65e-4, -0.04e-4, 0.77e-4, -0.45e-4, 1.8e-4, 4.7e-4, 5.75e-4, -2.9e-4, -6.6e-4, -5.3e-4, 2.2e-4, 2.6e-4,
  -1.06e-4, -2.2e-4, 0.37e-4, 3.4e-4, 2.0e-4, -1.26e-4, -2.9e-4, -1.26e-4, 3.2e-4, 5.1e-4, 1.8e-4, -1.26e-4, -3.5e-4, -2.5e-4,
  -0.65e-4, -0.45e-4, -1.46e-4, -0.24e-4, 0.77e-4, 1.8e-4, 2.4e-4, 3.6e-4, 3.9e-4, 2.8e-4, 0.77e-4, 0.06e-4, -0.14e-4, 0.16e-4,
  -2.07e-4, -3.7e-4, -2.3e-4, 0.97e-4, 4.0e-4, 4.4e-4, 1.8e-4, -2.5e-4, -3.3e-4, -4.5e-4, -3.7e-4, -2.9e-4, 0.97e-4, 3.2e-4,
  4.6e-4, 2.8e-4, -1.87e-4, -4.0e-4, -0.85e-4, 0.77e-4, 1.07e-4, -0.45e-4, -2.27e-4, -2.7e-4, -1.26e-4, 0.77e-4, 2.6e-4, 2.2e-4,
  0.97e-4, -0.45e-4, -1.26e-4, -2.2e-4, 0.77e-4, 1.6e-4, 2.4e-4, 4.0e-4, 4.6e-4, 2.8e-4, -1.05e-4, 0.77e-4, 2.0e-4, 2.6e-4,
  -0.24e-4, -3.3e-4, -7.4e-4, -7.7e-4, -4.3e-4, 0.77e-4, 2.0e-4, 2.8e-4, 3.7e-4, 2.8e-4, -1.26e-4, -3.5e-4, -0.85e-4, 2.8e-4,
  4.9e-4, 3.8e-4, 3.0e-4, 3.9e-4, 2.0e-4, -2.3e-4, -6.2e-4, -3.3e-4, 0.77e-4, 1.6e-4, -0.24e-4, -1.46e-4, 2.8e-4, 5.65e-4,
  6.5e-4, 4.9e-4, -2.9e-4, -4.8e-4, -5.6e-4, -3.3e-4, -0.85e-4, 0.57e-4, 0.77e-4, 0.37e-4, 0.77e-4, 1.6e-4, 0.77e-4, 0.16e-4,
  -0.04e-4, 0.26e-4, -2.27e-4, -4.3e-4, -6.4e-4, -5.9e-4, -3.3e-4, 1.8e-4, 5.0e-4, 2.8e-4, 1.2e-4, 1.6e-4, 2.7e-4, 1.8e-4,
  -1.26e-4, -2.9e-4, -2.3e-4, -0.04e-4, -1.26e-4, -1.67e-4, -2.5e-4, -1.46e-4, -1.87e-4, -0.65e-4, 0.77e-4, 1.6e-4, -0.45e-4, -1.87e-4,
  -2.5e-4, 2.8e-4, 8.9e-4, 10.6e-4, 5.85e-4, -1.26e-4, -1.67e-4, -1.46e-4, -2.07e-4, -2.5e-4, -1.26e-4, 2.2e-4, 3.0e-4, 3.5e-4,
  2.4e-4, -2.3e-4, -3.9e-4, -3.5e-4, -4.5e-4, -4.6e-4, -4.5e-4, -0.85e-4, 3.6e-4, 6.0e-4, 6.8e-4, 6.0e-4, 3.8e-4, 2.8e-4,
  1.2e-4, -1.26e-4, -3.5e-4, -4.2e-4, -3.9e-4, -2.3e-4, -0.85e-4, -0.04e-4, 0.77e-4, 2.0e-4, 1.8e-4, 3.6e-4, 4.2e-4, 4.2e-4,
  2.8e-4, -1.26e-4, -4.9e-4, -5.8e-4, -4.9e-4, -2.3e-4, 0.16e-4, 1.8e-4, 2.4e-4, 3.0e-4, 3.5e-4, 3.0e-4, 0.97e-4, -0.45e-4,
  -1.06e-4, -1.46e-4, -2.5e-4, -3.2e-4, -2.3e-4, -1.87e-4, -0.45e-4, -0.14e-4, 0.16e-4, 1.17e-4, 3.0e-4, 3.8e-4, 3.2e-4, 2.0e-4,
  1.17e-4, 0.77e-4, 1.48e-4, 1.58e-4, 0.57e-4, -1.26e-4, -4.3e-4, -5.4e-4, -3.3e-4, -1.26e-4, 0.87e-4, -0.24e-4, -1.87e-4, -2.9e-4,
  -2.5e-4, -0.85e-4, 0.37e-4, 0.26e-4, 0.16e-4, 1.17e-4, 3.0e-4, 3.4e-4, 3.1e-4, 3.9e-4, 2.6e-4, 0.77e-4, -0.65e-4, 0.77e-4,
  2.2e-4, 2.6e-4, 1.6e-4, -1.26e-4, -2.5e-4, -3.3e-4, -4.6e-4, -4.3e-4, -2.27e-4, -0.24e-4, 2.0e-4, 3.4e-4, 4.2e-4, 4.7e-4,
  4.0e-4, 3.2e-4, 3.4e-4, 2.8e-4, 1.8e-4, 0.16e-4, -1.06e-4, -1.77e-4, -1.26e-4, -1.67e-4, -1.06e-4, 0.16e-4, 0.77e-4, 1.17e-4,
  0.77e-4, 1.07e-4, 0.16e-4, -0.24e-4, 0.77e-4, 2.0e-4, 0.77e-4, -0.85e-4, -1.36e-4, -1.06e-4, -0.85e-4, -0.24e-4, 0.47e-4, -0.45e-4,
  -1.56e-4, -0.24e-4, -1.06e-4, -1.87e-4, -2.7e-4, -3.3e-4, -3.1e-4, -1.67e-4, -0.45e-4, 0.37e-4, 0.37e-4, 1.6e-4, 2.1e-4, 1.6e-4,
  0.37e-4, 0.16e-4, 0.57e-4, 0.67e-4, 0.97e-4, -0.24e-4, -1.06e-4, -1.77e-4, -0.04e-4, 0.77e-4, 0.37e-4, -0.45e-4, -1.46e-4, -2.07e-4,
  -2.6e-4, -2.07e-4, -1.26e-4, -0.24e-4, 0.37e-4, 1.17e-4, 2.0e-4, 1.17e-4, 0.37e-4, 0.77e-4, 2.8e-4, 4.2e-4, 4.4e-4, 3.6e-4,
  2.4e-4, -0.85e-4, -2.27e-4, -2.7e-4, -2.27e-4, -2.5e-4, -1.87e-4, -0.85e-4, -0.24e-4, -0.04e-4, -0.14e-4, 0.16e-4, 0.37e-4, -0.65e-4,
  -1.06e-4, -1.26e-4, -1.36e-4, -0.45e-4, 0.97e-4, 1.6e-4, 2.2e-4, 2.9e-4, 2.6e-4, 1.6e-4, 0.97e-4, 1.3e-4, 1.5e-4
];
const dispTicks = [-0.001, -0.0005, 0, 0.0005, 0.001];

// ---------------------------------------------------------------

const fontFamily = "'DejaVu Sans', sans-serif";
const tickFont = { family: fontFamily, size: 41.7 };
const labelFont = { family: fontFamily, size: 58.3 };
const gridColor = '#b0b0b0';
const thin = 3.33;

const minusSign = s => s.replace('-', '\u2212');

// box round the plotting area, like the four spines
const framePlugin = {
  id: 'frame',
  afterDatasetsDraw(chart) {
    const { ctx, chartArea: a } = chart;
    ctx.save();
    ctx.strokeStyle = '#000000';
    ctx.lineWidth = thin;
    ctx.strokeRect(a.left, a.top, a.right - a.left, a.bottom - a.top);
    ctx.restore();
  }
};

function makePanel(canvasId, points, color, yMin, yMax, yTicks, yTitle, formatY, titlePad) {
  const ctx = document.getElementById(canvasId).getContext('2d');
  return new Chart(ctx, {
    type: 'line',
    data: {
      datasets: [{
        data: points,
        borderColor: color,
        borderWidth: 6,
        borderJoinStyle: 'round',
        pointRadius: 0,
        tension: 0,
        fill: false,
        clip: 0
      }]
    },
    options: {
      responsive: false,
      animation: false,
      devicePixelRatio: 1,
      parsing: false,
      normalized: true,
      layout: { padding: { left: 0, right: 48, top: 81.5, bottom: 0.5 } },
      plugins: { legend: { display: false }, tooltip: { enabled: false } },
      scales: {
        x: {
          type: 'linear',
          min: 0,
          max: timeMax,
          afterBuildTicks: scale => { scale.ticks = timeTicks.map(v => ({ value: v })); },
          afterFit: scale => { scale.height = 157; },
          ticks: { font: tickFont, color: '#000000', padding: 8, maxRotation: 0,
                   callback: v => String(v) },
          grid: { color: gridColor, lineWidth: thin, tickLength: 15, tickColor: '#000000', tickWidth: thin },
          border: { display: false },
          title: { display: true, text: 'Time (s)', font: labelFont, color: '#000000', padding: { top: 0, bottom: 6 } }
        },
        y: {
          type: 'linear',
          min: yMin,
          max: yMax,
          afterBuildTicks: scale => { scale.ticks = yTicks.map(v => ({ value: v })); },
          afterFit: scale => { scale.width = 329; },
          ticks: { font: tickFont, color: '#000000', padding: 17, callback: formatY },
          grid: { color: gridColor, lineWidth: thin, tickLength: 15, tickColor: '#000000', tickWidth: thin },
          border: { display: false },
          title: { display: true, text: yTitle, font: labelFont, color: '#000000', padding: { top: titlePad, bottom: 0 } }
        }
      }
    },
    plugins: [framePlugin]
  });
}

const accelPoints = accelValues.map((v, i) => ({ x: i * accelStep, y: v }));
const velPoints = velTimes.map((t, i) => ({ x: t, y: velValues[i] }));
const dispPoints = dispTimes.map((t, i) => ({ x: t, y: dispValues[i] }));

makePanel('accelChart', accelPoints, '#000000', -2.81, 2.81, accelTicks,
  'Acceleration (cm/s/s)', v => minusSign(String(v)), 155);
makePanel('velChart', velPoints, '#0000ff', -0.0430, 0.0428, velTicks,
  'Velocity (cm/s)', v => minusSign(v.toFixed(2)), 90);
makePanel('dispChart', dispPoints, '#ff0000', -0.00144, 0.00144, dispTicks,
  'Displacement (cm)', v => minusSign(v.toFixed(4)), 38);
</script>
</body>
</html>
